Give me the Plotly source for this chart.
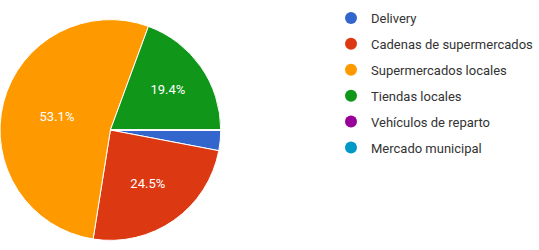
import plotly.graph_objects as go

labels = ["Delivery", "Cadenas de supermercados", "Supermercados locales",
          "Tiendas locales", "Vehículos de reparto", "Mercado municipal"]
values = [3.0, 24.5, 53.1, 19.4, 0, 0]
colors = ["#3366cc", "#dc3912", "#ff9900", "#109618", "#990099", "#0099c6"]
shown_labels = ["", "24.5%", "53.1%", "19.4%", "", ""]

W, H = 539, 250
fig = go.Figure()
fig.add_trace(go.Pie(
    labels=labels, values=values, text=shown_labels, textinfo="text",
    textposition="inside", insidetextorientation="horizontal",
    sort=False, direction="clockwise", rotation=90,
    marker=dict(colors=colors, line=dict(color="white", width=1)),
    textfont=dict(color="white", size=13, family="Roboto"),
    showlegend=False, hoverinfo="label+percent",
    domain=dict(x=[0 / W, 222 / W], y=[6 / H, 234 / H]),
))
for i, (lab, col) in enumerate(zip(labels, colors)):
    fig.add_trace(go.Scatter(
        x=[None], y=[None], mode="markers", name=lab, legendgroup=str(i),
        marker=dict(color=col, size=12, symbol="circle"),
    ))
fig.update_layout(
    width=W, height=H, margin=dict(l=0, r=0, t=0, b=0),
    paper_bgcolor="white", plot_bgcolor="white",
    xaxis=dict(visible=False), yaxis=dict(visible=False),
    legend=dict(x=333 / W, y=1 - 3 / H, xanchor="left", yanchor="top",
                font=dict(family="Roboto", size=13, color="#333333"),
                tracegroupgap=6, itemwidth=30, bgcolor="rgba(0,0,0,0)"),
    font=dict(family="Roboto"),
)
fig.write_html("out.html", config={"displayModeBar": False},
               post_script="document.body.style.margin='0';")
